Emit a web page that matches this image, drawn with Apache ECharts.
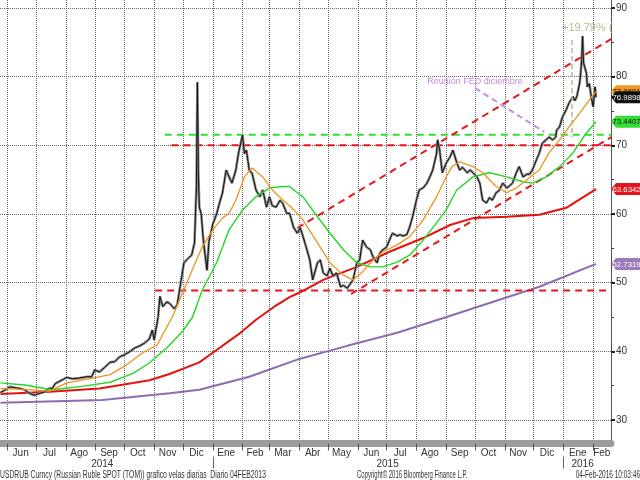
<!DOCTYPE html>
<html><head><meta charset="utf-8">
<script src="https://cdn.jsdelivr.net/npm/echarts@6/dist/echarts.min.js"></script>
<style>html,body{margin:0;padding:0;background:#fff}#c{width:640px;height:480px}</style>
</head><body><div id="c"></div>
<script>
// ---------- data ----------
const price = [
['2014-05-25',34.0],['2014-05-29',34.3],['2014-06-04',34.85],['2014-06-09',34.7],['2014-06-14',34.6],['2014-06-19',34.4],['2014-06-24',33.9],['2014-06-29',33.6],
['2014-07-05',33.9],['2014-07-10',34.1],['2014-07-15',34.6],['2014-07-18',34.6],['2014-07-21',35.3],['2014-07-25',35.6],['2014-08-02',36.2],['2014-08-08',36.0],
['2014-08-15',36.1],['2014-08-23',36.3],['2014-08-28',36.3],['2014-08-31',37.3],['2014-09-05',37.0],['2014-09-10',37.6],['2014-09-16',38.4],['2014-09-21',38.5],
['2014-09-26',39.2],['2014-10-01',39.5],['2014-10-07',40.0],['2014-10-12',40.5],['2014-10-17',40.8],['2014-10-22',41.2],['2014-10-27',41.8],['2014-10-30',43.1],
['2014-11-01',41.7],['2014-11-05',44.9],['2014-11-07',48.0],['2014-11-10',46.5],['2014-11-14',47.2],['2014-11-17',47.0],['2014-11-22',46.2],['2014-11-25',46.8],
['2014-11-28',49.4],['2014-12-02',52.9],['2014-12-06',53.5],['2014-12-10',54.0],['2014-12-13',55.8],['2014-12-15',64.0],['2014-12-16',79.2],['2014-12-17',66.0],
['2014-12-18',61.0],['2014-12-20',60.0],['2014-12-22',56.5],['2014-12-24',54.0],['2014-12-26',51.8],['2014-12-28',56.0],['2015-01-01',58.5],['2015-01-05',60.0],
['2015-01-08',61.6],['2015-01-11',63.0],['2015-01-15',66.4],['2015-01-18',65.4],['2015-01-21',64.5],['2015-01-25',66.4],['2015-01-28',69.0],['2015-02-01',71.5],
['2015-02-03',68.8],['2015-02-05',69.3],['2015-02-08',66.4],['2015-02-11',65.9],['2015-02-15',63.5],['2015-02-19',62.5],['2015-02-22',63.5],['2015-02-26',61.0],
['2015-03-01',62.5],['2015-03-04',61.2],['2015-03-08',61.0],['2015-03-12',62.0],['2015-03-15',61.5],['2015-03-19',60.1],['2015-03-22',60.1],['2015-03-26',58.1],
['2015-03-30',57.2],['2015-04-02',58.0],['2015-04-05',56.7],['2015-04-09',54.8],['2015-04-12',53.3],['2015-04-15',50.4],['2015-04-20',52.9],['2015-04-23',53.3],
['2015-04-26',51.4],['2015-04-30',51.0],['2015-05-03',52.1],['2015-05-06',51.0],['2015-05-10',51.4],['2015-05-14',49.4],['2015-05-17',49.6],['2015-05-21',49.2],
['2015-05-24',49.8],['2015-05-27',50.4],['2015-05-31',52.9],['2015-06-03',53.3],['2015-06-06',56.2],['2015-06-10',55.2],['2015-06-14',54.8],['2015-06-17',53.7],
['2015-06-21',52.9],['2015-06-24',54.3],['2015-06-27',54.8],['2015-07-01',55.2],['2015-07-04',56.2],['2015-07-07',57.2],['2015-07-12',56.8],['2015-07-15',57.0],
['2015-07-18',56.8],['2015-07-22',57.0],['2015-07-25',58.1],['2015-07-28',59.6],['2015-08-01',62.0],['2015-08-04',63.5],['2015-08-08',63.8],['2015-08-12',64.5],
['2015-08-15',65.4],['2015-08-18',66.4],['2015-08-22',68.8],['2015-08-23',70.8],['2015-08-25',69.5],['2015-08-28',66.0],['2015-09-01',67.4],['2015-09-05',68.3],
['2015-09-08',69.3],['2015-09-12',67.5],['2015-09-15',66.4],['2015-09-18',66.8],['2015-09-23',66.0],['2015-09-26',66.4],['2015-09-29',66.0],['2015-10-03',65.4],
['2015-10-06',64.5],['2015-10-09',62.0],['2015-10-13',61.6],['2015-10-16',62.4],['2015-10-19',62.0],['2015-10-23',63.1],['2015-10-26',63.4],['2015-10-30',64.5],
['2015-11-03',63.8],['2015-11-06',64.1],['2015-11-09',64.5],['2015-11-13',66.0],['2015-11-16',66.9],['2015-11-20',65.4],['2015-11-24',65.8],['2015-11-27',65.8],
['2015-11-30',66.5],['2015-12-04',67.9],['2015-12-07',68.9],['2015-12-10',70.3],['2015-12-14',70.8],['2015-12-17',71.2],['2015-12-21',70.8],['2015-12-24',71.2],
['2015-12-25',72.2],['2015-12-28',72.7],['2015-12-31',74.1],['2016-01-04',75.2],['2016-01-07',76.2],['2016-01-11',77.1],['2016-01-13',76.5],['2016-01-15',77.1],
['2016-01-18',79.1],['2016-01-19',80.5],['2016-01-20',82.4],['2016-01-21',85.9],['2016-01-22',82.0],['2016-01-25',80.5],['2016-01-26',78.5],['2016-01-28',79.0],
['2016-01-30',77.1],['2016-02-01',75.6],['2016-02-03',78.5],['2016-02-04',76.9898]
];
const maOrange = [
['2014-05-25',34.6],['2014-06-28',34.4],['2014-07-15',34.2],['2014-08-02',35.4],['2014-08-29',36.1],['2014-09-16',36.6],['2014-10-03',38.0],['2014-10-20',39.8],
['2014-11-04',40.9],['2014-11-14',43.5],['2014-11-20',45.0],['2014-12-05',50.0],['2014-12-15',53.3],['2014-12-21',55.2],['2015-01-01',57.7],['2015-01-11',59.4],
['2015-01-18',60.1],['2015-01-25',62.0],['2015-02-03',65.4],['2015-02-11',66.7],['2015-02-22',65.4],['2015-03-04',63.5],['2015-03-15',62.0],['2015-03-22',61.2],
['2015-03-30',60.1],['2015-04-05',59.1],['2015-04-20',55.8],['2015-05-03',52.9],['2015-05-17',51.1],['2015-05-27',50.4],['2015-06-06',51.6],['2015-06-17',53.3],
['2015-06-27',54.5],['2015-07-12',55.5],['2015-07-25',56.7],['2015-08-08',59.1],['2015-08-22',62.5],['2015-09-01',65.4],['2015-09-07',66.9],['2015-09-15',67.6],
['2015-09-29',66.9],['2015-10-09',66.0],['2015-10-23',64.0],['2015-11-03',63.1],['2015-11-13',63.8],['2015-11-24',65.0],['2015-12-07',66.4],['2015-12-17',68.9],
['2015-12-28',70.8],['2016-01-07',72.7],['2016-01-18',74.7],['2016-01-28',76.6],['2016-02-04',77.8601]
];
const maGreen = [
['2014-05-25',35.4],['2014-06-19',35.1],['2014-07-18',34.4],['2014-08-18',34.9],['2014-09-16',35.5],['2014-10-10',36.8],['2014-10-27',38.3],['2014-11-17',40.9],
['2014-12-01',43.0],['2014-12-11',45.0],['2014-12-21',48.9],['2015-01-05',52.9],['2015-01-18',57.7],['2015-02-01',60.6],['2015-02-15',62.5],['2015-03-01',63.8],
['2015-03-15',64.0],['2015-03-22',64.0],['2015-03-30',63.1],['2015-04-05',62.5],['2015-04-20',59.6],['2015-05-03',57.2],['2015-05-17',54.8],['2015-05-31',52.9],
['2015-06-14',52.3],['2015-06-27',52.3],['2015-07-12',53.0],['2015-07-25',54.0],['2015-08-08',56.2],['2015-08-22',58.7],['2015-09-01',60.6],['2015-09-12',63.5],
['2015-09-29',65.4],['2015-10-16',66.0],['2015-11-03',65.4],['2015-11-20',64.7],['2015-11-30',64.5],['2015-12-14',65.4],['2015-12-28',66.9],['2016-01-11',68.9],
['2016-01-25',71.8],['2016-02-04',73.4407]
];
const maRed = [
['2014-05-25',33.8],['2014-07-15',34.1],['2014-09-05',34.6],['2014-10-10',35.4],['2014-10-27',35.8],['2014-11-17',36.7],['2014-12-18',38.4],['2015-01-01',39.8],
['2015-01-28',42.5],['2015-02-15',44.6],['2015-03-06',46.5],['2015-03-22',47.9],['2015-04-02',48.6],['2015-04-26',50.4],['2015-05-31',52.3],['2015-07-04',54.5],
['2015-08-08',56.5],['2015-09-05',58.4],['2015-09-29',59.4],['2015-11-03',59.6],['2015-12-07',59.9],['2016-01-04',60.9],['2016-02-04',63.6342]
];
const maPurple = [
['2014-05-25',32.5],['2014-09-08',32.9],['2014-11-17',33.9],['2014-12-18',34.4],['2015-02-08',36.3],['2015-03-30',38.8],['2015-05-21',40.8],['2015-07-12',42.7],
['2015-08-30',44.9],['2015-12-07',49.4],['2016-02-04',52.7319]
];
const levelGreen = [['2014-11-12',71.55],['2016-02-20',71.55]];
const levelRedHigh = [['2014-11-19',70.0],['2016-02-20',70.0]];
const levelRedLow = [['2014-11-02',48.85],['2016-02-20',48.85]];
const channelUpper = [['2015-03-30',57.96],['2016-02-20',85.5]];
const channelLower = [['2015-05-25',48.35],['2016-02-20',71.2]];
const fedArrow = [['2015-10-01',78.35],['2015-12-12',71.95]];
const measureLine = [['2016-01-10',85.34],['2016-01-10',71.2]];
const monthTicks = ['2014-06-01','2014-07-01','2014-08-01','2014-09-01','2014-10-01','2014-11-01','2014-12-01','2015-01-01','2015-02-01','2015-03-01','2015-04-01',
'2015-05-01','2015-06-01','2015-07-01','2015-08-01','2015-09-01','2015-10-01','2015-11-01','2015-12-01','2016-01-01','2016-02-01'];
const monthLabels = [['2014-06-15','Jun'],['2014-07-15','Jul'],['2014-08-15','Ago'],['2014-09-15','Sep'],['2014-10-15','Oct'],['2014-11-15','Nov'],['2014-12-15','Dic'],
['2015-01-15','Ene'],['2015-02-14','Feb'],['2015-03-15','Mar'],['2015-04-15','Abr'],['2015-05-15','May'],['2015-06-15','Jun'],['2015-07-15','Jul'],['2015-08-15','Ago'],
['2015-09-15','Sep'],['2015-10-15','Oct'],['2015-11-15','Nov'],['2015-12-15','Dic'],['2016-01-16','Ene'],['2016-02-10','Feb']];
const yearLabels = [['2014-09-08','2014'],['2015-07-02','2015'],['2016-01-21','2016']];
const yearSeps = ['2015-01-01','2016-01-01'];
const yTicks = [30,40,50,60,70,80,90];
const yMinor = [35,45,55,65,75,85];
const footerLeft = 'USDRUB Curncy (Russian Ruble SPOT (TOM)) grafico velas diarias  Diario 04FEB2013';
const footerMid = 'Copyright\u00a9 2016 Bloomberg Finance L.P.';
const footerRight = '04-Feb-2016 10:03:46';

// ---------- build ----------
const T = s => Date.parse(s + 'T00:00:00Z');
const conv = a => a.map(p => [T(p[0]), p[1]]);
const XMIN = T('2014-05-24') + 12 * 3600e3, XMAX = T('2016-02-19') + 14 * 3600e3;
const YMIN = 26.578, YMAX = 91.165;
const FONT = "'Liberation Sans',Arial,sans-serif";
const mName = {}; monthLabels.forEach(m => mName[T(m[0])] = m[1]);
const yName = {}; yearLabels.forEach(m => yName[T(m[0])] = m[1]);

const tagPath = 'path://M0,6 L6,0 L40,0 L40,12 L6,12 Z';
function tag(value, bg, fg, z) {
  return {
    z: z, silent: true, symbol: tagPath, symbolSize: [34, 12], symbolOffset: [17, 0], symbolKeepAspect: false,
    data: [{ coord: [XMAX, value], itemStyle: { color: bg },
      label: { show: true, position: [1.5, 2], align: 'left', verticalAlign: 'top', formatter: value.toFixed(4),
        color: fg, fontSize: 7.8, lineHeight: 9, fontFamily: FONT } }]
  };
}
function line(data, color, width, extra) {
  return Object.assign({ type: 'line', data: data, showSymbol: false, symbol: 'none', silent: true,
    lineStyle: { color: color, width: width }, itemStyle: { color: color } }, extra || {});
}
const dash = [7, 5];
function footText(text, x, align, sx) {
  return { type: 'text', x: x, y: 475, scaleX: sx, silent: true,
    style: { text: text, fill: '#333', font: '10px ' + FONT, textAlign: align, textVerticalAlign: 'middle' } };
}

const chart = echarts.init(document.getElementById('c'), null, { renderer: 'canvas' });
chart.setOption({
  animation: false,
  backgroundColor: '#ffffff',
  graphic: [
    footText(footerLeft, 0, 'left', 0.68),
    footText(footerMid, 357, 'left', 0.6),
    footText(footerRight, 640, 'right', 0.65)
  ],
  grid: { left: 0, right: 29, top: 0, bottom: 36.5, containLabel: false },
  xAxis: [
    { type: 'value', min: XMIN, max: XMAX, position: 'bottom',
      axisLine: { show: true, lineStyle: { color: '#9c9c9c', width: 7 } },
      axisTick: { show: true, customValues: monthTicks.map(T), length: 7, lineStyle: { color: '#555' } },
      axisLabel: { show: true, customValues: monthLabels.map(m => T(m[0])), formatter: v => mName[v] || '', margin: 5,
        color: '#333', fontSize: 10, fontFamily: FONT },
      splitLine: { show: true, lineStyle: { type: 'dotted', color: '#6a6a6a', width: 1 } } },
    { type: 'value', min: XMIN, max: XMAX, position: 'bottom', offset: 13,
      axisLine: { show: false },
      axisTick: { show: true, customValues: yearSeps.map(T), length: 12, lineStyle: { color: '#666' } },
      axisLabel: { show: true, customValues: yearLabels.map(m => T(m[0])), formatter: v => yName[v] || '', margin: 3,
        color: '#333', fontSize: 10, fontFamily: FONT },
      splitLine: { show: false } }
  ],
  yAxis: [
    { type: 'value', min: YMIN, max: YMAX, position: 'right',
      axisLine: { show: true, lineStyle: { color: '#555', width: 1 } },
      axisTick: { show: true, customValues: yTicks, length: 4, lineStyle: { color: '#222', width: 2 } },
      axisLabel: { show: true, customValues: yTicks, margin: 5, color: '#333', fontSize: 10, fontFamily: FONT },
      splitLine: { show: true, lineStyle: { type: 'dotted', color: '#6a6a6a', width: 1 } } },
    { type: 'value', min: YMIN, max: YMAX, position: 'right',
      axisLine: { show: false },
      axisTick: { show: true, customValues: yMinor, length: 3, lineStyle: { color: '#444', width: 1 } },
      axisLabel: { show: false }, splitLine: { show: false } }
  ],
  series: [
    line(conv(maPurple), '#8d6cb5', 2, { z: 2, markPoint: tag(52.7319, '#9b7bb9', '#fff', 6) }),
    line(conv(maRed), '#e4120f', 2, { z: 2, markPoint: tag(63.6342, '#e3131b', '#fff', 6) }),
    line(conv(levelRedLow), '#e8151a', 2, { z: 3, lineStyle: { color: '#e8151a', width: 2, type: dash } }),
    line(conv(levelRedHigh), '#e8151a', 2, { z: 3, lineStyle: { color: '#e8151a', width: 2, type: dash } }),
    line(conv(levelGreen), '#2ee02e', 2, { z: 3, lineStyle: { color: '#2ee02e', width: 2, type: dash } }),
    line(conv(channelUpper), '#e8151a', 2, { z: 3, lineStyle: { color: '#e8151a', width: 2, type: dash } }),
    line(conv(channelLower), '#e8151a', 2, { z: 3, lineStyle: { color: '#e8151a', width: 2, type: dash } }),
    line(conv(price), '#8c8c8c', 2.6, { z: 4 }),
    line(conv(price), '#111', 1, { z: 4, markPoint: tag(76.9898, '#111', '#fff', 8) }),
    line(conv(maGreen), '#22d822', 1.4, { z: 5, markPoint: tag(73.4407, '#33dd33', '#111', 6) }),
    line(conv(maOrange), '#f0921f', 1.3, { z: 5, markPoint: tag(77.8601, '#f39a22', '#111', 7) }),
    line(conv(fedArrow), '#c78be0', 2, { z: 6, lineStyle: { color: '#c78be0', width: 2, type: [6, 4] },
      markPoint: { silent: true, symbol: 'circle', symbolSize: 1, itemStyle: { color: 'rgba(0,0,0,0)' },
        data: [{ coord: conv(fedArrow)[0], label: { show: true, position: 'top', distance: 1, formatter: 'Reuni\u00f3n FED diciembre',
          color: '#c48ad8', fontSize: 9, fontFamily: FONT } }] } }),
    line(conv(measureLine), '#b8b892', 1.5, { z: 6, lineStyle: { color: '#b8b892', width: 1.5, type: [5, 3] },
      markPoint: { silent: true, symbol: 'circle', symbolSize: 1, itemStyle: { color: 'rgba(0,0,0,0)' },
        data: [{ coord: conv(measureLine)[0], label: { show: true, position: 'top', align: 'left', distance: 6, offset: [-10, 0],
          formatter: '+19.79% (', color: '#b8b892', fontSize: 11, fontFamily: FONT } }] } })
  ]
});
</script></body></html>
